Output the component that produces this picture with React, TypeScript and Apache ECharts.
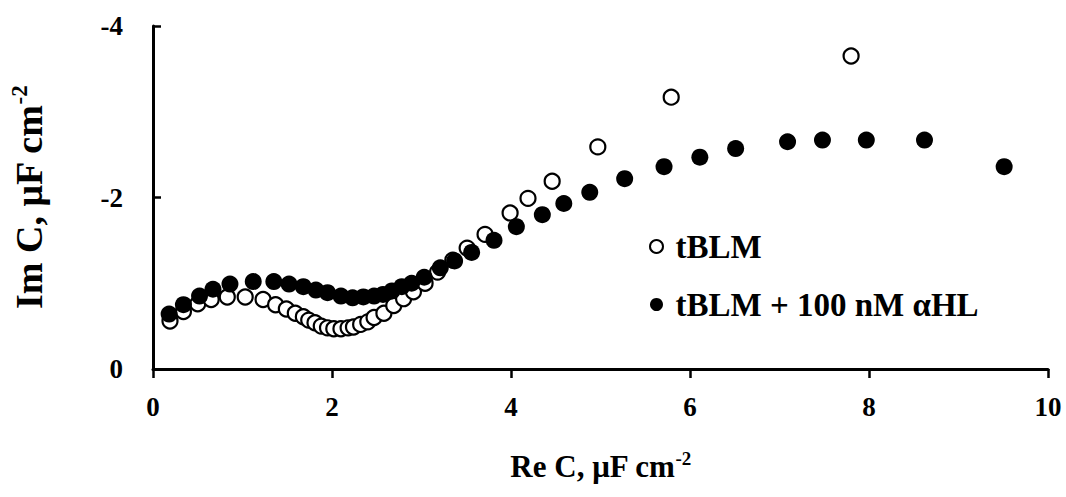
import React, { useEffect, useRef } from "react";
import * as echarts from "echarts";

const seriesNames = ["tBLM", "tBLM + 100 nM αHL"];

// tBLM: [Re C, Im C]
const tblmPoints: [number, number][] = [
  [0.19, -0.56], [0.34, -0.67], [0.5, -0.76], [0.65, -0.81], [0.83, -0.84],
  [1.03, -0.84], [1.23, -0.81], [1.37, -0.75], [1.49, -0.7], [1.59, -0.65],
  [1.68, -0.61], [1.74, -0.57], [1.81, -0.54], [1.88, -0.5], [1.95, -0.48],
  [2.02, -0.47], [2.1, -0.47], [2.18, -0.48], [2.24, -0.49], [2.32, -0.52],
  [2.4, -0.55], [2.47, -0.6], [2.58, -0.65], [2.69, -0.74], [2.8, -0.82],
  [2.91, -0.9], [3.04, -1.0], [3.18, -1.13], [3.35, -1.27], [3.51, -1.41],
  [3.71, -1.57], [3.99, -1.82], [4.19, -1.99], [4.46, -2.19], [4.97, -2.59],
  [5.79, -3.17], [7.8, -3.65],
];

// tBLM + 100 nM αHL: [Re C, Im C]
const ahlPoints: [number, number][] = [
  [0.18, -0.64], [0.34, -0.75], [0.52, -0.85], [0.67, -0.93], [0.86, -0.99],
  [1.12, -1.02], [1.35, -1.02], [1.52, -0.99], [1.68, -0.96], [1.82, -0.92],
  [1.95, -0.89], [2.1, -0.85], [2.23, -0.83], [2.35, -0.84], [2.47, -0.85],
  [2.57, -0.87], [2.67, -0.91], [2.78, -0.96], [2.89, -1.0], [3.03, -1.07],
  [3.21, -1.18], [3.37, -1.26], [3.56, -1.36], [3.81, -1.5], [4.06, -1.66],
  [4.35, -1.8], [4.59, -1.93], [4.88, -2.06], [5.27, -2.22], [5.71, -2.36],
  [6.11, -2.47], [6.51, -2.57], [7.09, -2.65], [7.48, -2.67], [7.97, -2.67],
  [8.62, -2.67], [9.51, -2.36],
];

const xTicks = { min: 0, max: 10, interval: 2 };
const yTicks = { min: -4, max: 0, interval: 2 };

const FONT = "Liberation Serif";

export default function App() {
  const ref = useRef<HTMLDivElement>(null);
  useEffect(() => {
    if (!ref.current) return;
    const chart = echarts.init(ref.current, undefined, { renderer: "svg" });
    const supX = { sup: { fontSize: 19, fontWeight: "bold", fontFamily: FONT, color: "#000", padding: [0, 0, 15, 0] } };
    const supY = { sup: { fontSize: 23, fontWeight: "bold", fontFamily: FONT, color: "#000", padding: [0, 0, 18, 0] } };
    chart.setOption({
      animation: false,
      backgroundColor: "#fff",
      grid: { left: 152, right: 18, top: 26, bottom: 128, containLabel: false },
      legend: {
        orient: "vertical",
        left: 644,
        top: 225,
        itemGap: 25,
        itemWidth: 28,
        itemHeight: 13,
        icon: "circle",
        textStyle: { fontFamily: FONT, fontWeight: "bold", fontSize: 33, color: "#000" },
        data: seriesNames,
      },
      xAxis: {
        type: "value",
        min: xTicks.min,
        max: xTicks.max,
        interval: xTicks.interval,
        name: "Re C, μF cm{sup|-2}",
        nameLocation: "middle",
        nameGap: 80,
        nameTextStyle: { fontFamily: FONT, fontWeight: "bold", fontSize: 31, color: "#000", rich: supX },
        axisLine: { lineStyle: { color: "#000", width: 3 } },
        axisTick: { show: true, inside: false, length: 9, lineStyle: { color: "#000", width: 2.5 } },
        axisLabel: { fontFamily: FONT, fontWeight: "bold", fontSize: 27, color: "#000", margin: 24 },
        splitLine: { show: false },
      },
      yAxis: {
        type: "value",
        min: yTicks.min,
        max: yTicks.max,
        interval: yTicks.interval,
        inverse: true,
        name: "Im C, μF cm{sup|-2}",
        nameLocation: "middle",
        nameGap: 104,
        nameRotate: 90,
        nameTextStyle: { fontFamily: FONT, fontWeight: "bold", fontSize: 38, color: "#000", rich: supY },
        axisLine: { lineStyle: { color: "#000", width: 3 } },
        axisTick: { show: true, inside: true, length: 8, lineStyle: { color: "#000", width: 2.5 } },
        axisLabel: { fontFamily: FONT, fontWeight: "bold", fontSize: 27, color: "#000", margin: 30 },
        splitLine: { show: false },
      },
      series: [
        {
          name: seriesNames[0],
          type: "scatter",
          data: tblmPoints,
          symbol: "circle",
          symbolSize: 15,
          itemStyle: { color: "#fff", borderColor: "#000", borderWidth: 2.2, opacity: 1 },
        },
        {
          name: seriesNames[1],
          type: "scatter",
          data: ahlPoints,
          symbol: "circle",
          symbolSize: 17,
          itemStyle: { color: "#000", borderColor: "#000", borderWidth: 0, opacity: 1 },
        },
      ],
    });
    return () => chart.dispose();
  }, []);
  return <div ref={ref} style={{ width: 1066, height: 497, position: "absolute", left: 0, top: 0 }} />;
}
